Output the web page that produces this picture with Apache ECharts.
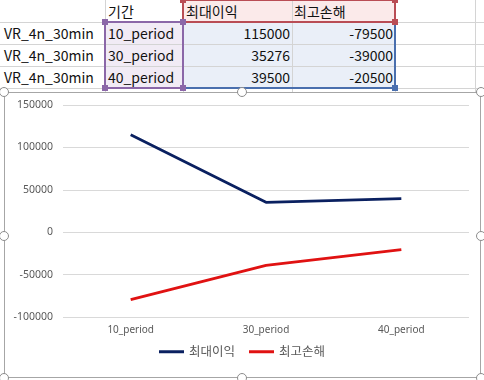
<!DOCTYPE html>
<html><head><meta charset="utf-8">
<script src="https://cdn.jsdelivr.net/npm/echarts@6/dist/echarts.min.js"></script>
<style>
html,body{margin:0;padding:0;background:#fff;width:484px;height:380px;overflow:hidden;font-family:"Noto Sans CJK KR","Noto Sans",sans-serif;}
.cell{position:absolute;height:22px;line-height:22px;font-size:14px;color:#111;white-space:nowrap;box-sizing:border-box;}
.hl{position:absolute;background:#d4d4d4;}
.frame{position:absolute;left:4px;top:92px;width:477px;height:286px;border:1px solid #a6a6a6;box-sizing:border-box;background:#fff;border-radius:3px;}
.h{position:absolute;width:10px;height:10px;border-radius:50%;border:1.5px solid #8c8c8c;background:#fff;box-sizing:border-box;}
.sq{position:absolute;width:6px;height:6px;}
#chart{position:absolute;left:0;top:0;width:484px;height:380px;}
</style></head>
<body>
<div id="sheet"></div>
<div class="frame"></div>
<div id="chart"></div>
<div id="handles"></div>
<script>
const rowNames = ['VR_4n_30min','VR_4n_30min','VR_4n_30min'];
const periodHeader = '기간';
const categories = ['10_period','30_period','40_period'];
const seriesNames = ['최대이익','최고손해'];
const maxProfit = [115000, 35276, 39500];
const maxLoss = [-79500, -39000, -20500];
const yTicks = {min:-100000, max:150000, interval:50000};

// spreadsheet
const sheet = document.getElementById('sheet');
function add(html){ sheet.insertAdjacentHTML('beforeend', html); }
add('<div style="position:absolute;left:183px;top:0;width:212px;height:22px;background:#fbeaea"></div>');
add('<div style="position:absolute;left:105px;top:22px;width:78px;height:66px;background:#f1ebf5"></div>');
add('<div style="position:absolute;left:183px;top:22px;width:212px;height:66px;background:#eaeff8"></div>');
[22,44,66,88].forEach(y=>add(`<div class="hl" style="left:0;top:${y}px;width:484px;height:1px"></div>`));
[105,183,292,395,475].forEach(x=>add(`<div class="hl" style="left:${x}px;top:0;width:1px;height:92px"></div>`));
add(`<div class="cell" style="left:108px;top:0">${periodHeader}</div>`);
add(`<div class="cell" style="left:186px;top:0">${seriesNames[0]}</div>`);
add(`<div class="cell" style="left:294px;top:0">${seriesNames[1]}</div>`);
for(let i=0;i<3;i++){
  const t = 22 + i*22;
  add(`<div class="cell" style="left:4px;top:${t}px">${rowNames[i]}</div>`);
  add(`<div class="cell" style="left:108px;top:${t}px">${categories[i]}</div>`);
  add(`<div class="cell" style="left:183px;top:${t}px;width:107px;text-align:right">${maxProfit[i]}</div>`);
  add(`<div class="cell" style="left:292px;top:${t}px;width:101px;text-align:right">${maxLoss[i]}</div>`);
}
add('<div style="position:absolute;left:182px;top:-1px;width:214px;height:24px;border:2px solid #b94d55;box-sizing:border-box"></div>');
add('<div style="position:absolute;left:104px;top:21px;width:80px;height:68px;border:2px solid #8b67a8;box-sizing:border-box"></div>');
add('<div style="position:absolute;left:182px;top:21px;width:214px;height:68px;border:2px solid #4a6fae;border-top:none;border-left:none;box-sizing:border-box"></div>');
[[102,19,'#8b67a8'],[180,19,'#8b67a8'],[102,85,'#8b67a8'],[180,85,'#8b67a8'],[180,-3,'#b94d55'],[392,-3,'#b94d55'],[392,19,'#b94d55'],[392,85,'#4a6fae']]
 .forEach(([x,y,c])=>add(`<div class="sq" style="left:${x}px;top:${y}px;background:${c}"></div>`));

const hd = document.getElementById('handles');
[[4,92],[242,92],[481,92],[4,236],[481,236],[4,378],[242,378],[481,378]].forEach(([x,y])=>{
  hd.insertAdjacentHTML('beforeend', `<div class="h" style="left:${x-5}px;top:${y-5}px"></div>`);
});

const chart = echarts.init(document.getElementById('chart'), null, {renderer:'canvas'});
const font = '"Noto Sans","Noto Sans CJK KR",sans-serif';
chart.setOption({
  backgroundColor:'transparent',
  animation:false,
  grid:{left:63, right:15, top:105, bottom:63, containLabel:false},
  legend:{
    bottom:17, left:'center', itemWidth:25, itemHeight:3, itemGap:14,
    icon:'rect',
    textStyle:{color:'#595959', fontSize:12.5, fontFamily:'"Noto Sans CJK KR",sans-serif'},
    data:seriesNames
  },
  xAxis:{
    type:'category', data:categories, boundaryGap:true,
    axisLine:{show:false}, axisTick:{show:false},
    axisLabel:{color:'#595959', fontSize:10, margin:8, fontFamily:font}
  },
  yAxis:{
    type:'value', min:yTicks.min, max:yTicks.max, interval:yTicks.interval,
    axisLine:{show:false}, axisTick:{show:false},
    axisLabel:{color:'#595959', fontSize:10.5, margin:10, fontFamily:font, formatter:v=>String(v)},
    splitLine:{lineStyle:{color:'#d9d9d9', width:1}}
  },
  series:[
    {name:seriesNames[0], type:'line', data:maxProfit, symbol:'none', lineStyle:{color:'#0a2060', width:2.8}, itemStyle:{color:'#0a2060'}},
    {name:seriesNames[1], type:'line', data:maxLoss, symbol:'none', lineStyle:{color:'#e01212', width:2.8}, itemStyle:{color:'#e01212'}}
  ]
});
</script>
</body></html>
